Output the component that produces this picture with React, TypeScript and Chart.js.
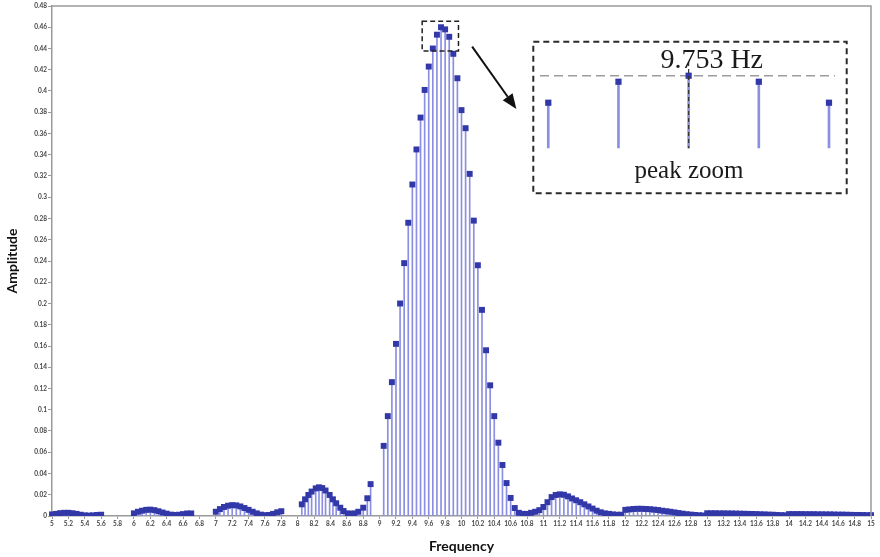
import React, { useEffect, useRef } from "react";
import { Chart, registerables } from "chart.js";

Chart.register(...registerables);

// ---------- data ----------
const FREQ_1 = [5, 5.05, 5.1, 5.15, 5.2, 5.25, 5.3, 5.35, 5.4, 5.45, 5.5, 5.55, 5.6];
const AMP_1 = [0.0015, 0.002, 0.0027, 0.003, 0.003, 0.0026, 0.002, 0.0012, 0.0006, 0.0004, 0.0006, 0.001, 0.0012];

const FREQ_2 = [6, 6.05, 6.1, 6.15, 6.2, 6.25, 6.3, 6.35, 6.4, 6.45, 6.5, 6.55, 6.6, 6.65, 6.7];
const AMP_2 = [0.0025, 0.004, 0.005, 0.0058, 0.006, 0.0055, 0.0045, 0.0033, 0.0022, 0.0013, 0.001, 0.0012, 0.0018, 0.0024, 0.0024];

const FREQ_3 = [7, 7.05, 7.1, 7.15, 7.2, 7.25, 7.3, 7.35, 7.4, 7.45, 7.5, 7.55, 7.6, 7.65, 7.7, 7.75, 7.8];
const AMP_3 = [0.004, 0.0065, 0.0085, 0.0097, 0.0102, 0.01, 0.009, 0.0075, 0.0058, 0.004, 0.0025, 0.0013, 0.0008, 0.001, 0.002, 0.0035, 0.0045];

const FREQ_4 = [8.05, 8.09, 8.13, 8.17, 8.22, 8.26, 8.3, 8.34, 8.39, 8.43, 8.47, 8.52, 8.56, 8.61, 8.65, 8.69, 8.74, 8.8, 8.85, 8.89];
const AMP_4 = [0.011, 0.0157, 0.0198, 0.023, 0.026, 0.027, 0.0263, 0.024, 0.0198, 0.0157, 0.012, 0.0078, 0.0047, 0.0025, 0.002, 0.0025, 0.004, 0.0078, 0.0167, 0.03];

const FREQ_5 = [9.05, 9.1, 9.15, 9.2, 9.25, 9.3, 9.35, 9.4, 9.45, 9.5, 9.55, 9.6, 9.65, 9.7, 9.75, 9.8, 9.85, 9.9, 9.95, 10.0, 10.05, 10.1, 10.15, 10.2, 10.25, 10.3, 10.35, 10.4, 10.45, 10.5, 10.55, 10.6, 10.65, 10.7];
const AMP_5 = [0.066, 0.094, 0.126, 0.162, 0.2, 0.238, 0.276, 0.312, 0.345, 0.375, 0.401, 0.423, 0.44, 0.453, 0.46, 0.458, 0.451, 0.435, 0.412, 0.382, 0.365, 0.322, 0.278, 0.236, 0.194, 0.156, 0.123, 0.094, 0.069, 0.048, 0.031, 0.017, 0.0075, 0.003];

const FREQ_6 = [10.75, 10.8, 10.85, 10.9, 10.95, 11.0, 11.05, 11.1, 11.15, 11.2, 11.25, 11.3, 11.35, 11.4, 11.45, 11.5, 11.55, 11.6, 11.65, 11.7, 11.75, 11.8, 11.85, 11.9, 11.95];
const AMP_6 = [0.002, 0.002, 0.003, 0.004, 0.0055, 0.0085, 0.013, 0.0178, 0.0198, 0.0204, 0.02, 0.0185, 0.0165, 0.0148, 0.013, 0.011, 0.009, 0.007, 0.005, 0.0035, 0.0025, 0.002, 0.0015, 0.0012, 0.0012];

const FREQ_7 = [12.0, 12.05, 12.1, 12.15, 12.2, 12.25, 12.3, 12.35, 12.4, 12.45, 12.5, 12.55, 12.6, 12.65, 12.7, 12.75, 12.8, 12.85, 12.9, 12.95];
const AMP_7 = [0.0058, 0.0062, 0.0066, 0.0068, 0.0068, 0.0066, 0.0064, 0.006, 0.0056, 0.005, 0.0045, 0.004, 0.0034, 0.0028, 0.0022, 0.0017, 0.0013, 0.001, 0.0007, 0.0005];

const FREQ_8 = [13.0, 13.05, 13.1, 13.15, 13.2, 13.25, 13.3, 13.35, 13.4, 13.45, 13.5, 13.55, 13.6, 13.65, 13.7, 13.75, 13.8, 13.85, 13.9, 13.95];
const AMP_8 = [0.0026, 0.0026, 0.0026, 0.0025, 0.0025, 0.0024, 0.0024, 0.0023, 0.0022, 0.0021, 0.002, 0.0019, 0.0018, 0.0016, 0.0015, 0.0013, 0.0012, 0.001, 0.0008, 0.0007];

const FREQ_9 = [14.0, 14.05, 14.1, 14.15, 14.2, 14.25, 14.3, 14.35, 14.4, 14.45, 14.5, 14.55, 14.6, 14.65, 14.7, 14.75, 14.8, 14.85, 14.9, 14.95, 15.0];
const AMP_9 = [0.0018, 0.0018, 0.0018, 0.0018, 0.0017, 0.0017, 0.0017, 0.0016, 0.0016, 0.0015, 0.0015, 0.0014, 0.0013, 0.0013, 0.0012, 0.0011, 0.001, 0.001, 0.0009, 0.0008, 0.0008];

const X_TICKS = [5, 5.2, 5.4, 5.6, 5.8, 6, 6.2, 6.4, 6.6, 6.8, 7, 7.2, 7.4, 7.6, 7.8, 8, 8.2, 8.4, 8.6, 8.8, 9, 9.2, 9.4, 9.6, 9.8, 10, 10.2, 10.4, 10.6, 10.8, 11, 11.2, 11.4, 11.6, 11.8, 12, 12.2, 12.4, 12.6, 12.8, 13, 13.2, 13.4, 13.6, 13.8, 14, 14.2, 14.4, 14.6, 14.8, 15];
const Y_TICKS = [0, 0.02, 0.04, 0.06, 0.08, 0.1, 0.12, 0.14, 0.16, 0.18, 0.2, 0.22, 0.24, 0.26, 0.28, 0.3, 0.32, 0.34, 0.36, 0.38, 0.4, 0.42, 0.44, 0.46, 0.48];

const INSET_FREQ = [9.653, 9.703, 9.753, 9.803, 9.853];
const INSET_AMP = [0.442, 0.456, 0.46, 0.456, 0.442];
const PEAK_FREQ = 9.753;
const PEAK_AMP = 0.46;
const PEAK_LABEL = "9.753 Hz";
const INSET_TITLE = "peak zoom";
const X_TITLE = "Frequency";
const Y_TITLE = "Amplitude";

// annotation geometry (data coordinates)
const PEAK_BOX = { x0: 9.52, x1: 9.963, y0: 0.4377, y1: 0.4657 };
const ARROW = { x0: 10.13, y0: 0.4417, x1: 10.67, y1: 0.3831 };

// ---------- styles ----------
const MARK = "#3338a8";
const STEM = "#8b8fe3";
const AXIS = "#9a9a9a";

const SEGMENTS: [number[], number[]][] = [
  [FREQ_1, AMP_1], [FREQ_2, AMP_2], [FREQ_3, AMP_3], [FREQ_4, AMP_4], [FREQ_5, AMP_5],
  [FREQ_6, AMP_6], [FREQ_7, AMP_7], [FREQ_8, AMP_8], [FREQ_9, AMP_9],
];

const fmt = (v: number) => String(+Number(v).toFixed(2));

const mainDecor = {
  id: "mainDecor",
  afterDraw(chart: any) {
    const { ctx, chartArea: a, scales } = chart;
    const xs = scales.x, ys = scales.y;
    ctx.save();
    ctx.strokeStyle = AXIS;
    ctx.lineWidth = 1.5;
    ctx.beginPath();
    ctx.moveTo(a.left, a.top);
    ctx.lineTo(a.right, a.top);
    ctx.lineTo(a.right, a.bottom);
    ctx.stroke();
    const bx0 = xs.getPixelForValue(PEAK_BOX.x0), bx1 = xs.getPixelForValue(PEAK_BOX.x1);
    const by0 = ys.getPixelForValue(PEAK_BOX.y0), by1 = ys.getPixelForValue(PEAK_BOX.y1);
    ctx.strokeStyle = "#222";
    ctx.lineWidth = 1.5;
    ctx.setLineDash([5, 3]);
    ctx.strokeRect(bx0, by1, bx1 - bx0, by0 - by1);
    ctx.setLineDash([]);
    const ax0 = xs.getPixelForValue(ARROW.x0), ay0 = ys.getPixelForValue(ARROW.y0);
    const ax1 = xs.getPixelForValue(ARROW.x1), ay1 = ys.getPixelForValue(ARROW.y1);
    const ang = Math.atan2(ay1 - ay0, ax1 - ax0);
    const hl = 15, hw = 6;
    const bxp = ax1 - hl * Math.cos(ang), byp = ay1 - hl * Math.sin(ang);
    ctx.strokeStyle = "#111";
    ctx.fillStyle = "#111";
    ctx.lineWidth = 2;
    ctx.beginPath();
    ctx.moveTo(ax0, ay0);
    ctx.lineTo(bxp, byp);
    ctx.stroke();
    ctx.beginPath();
    ctx.moveTo(ax1, ay1);
    ctx.lineTo(bxp + hw * Math.sin(ang), byp - hw * Math.cos(ang));
    ctx.lineTo(bxp - hw * Math.sin(ang), byp + hw * Math.cos(ang));
    ctx.closePath();
    ctx.fill();
    ctx.restore();
  },
};

const insetDecor = {
  id: "insetDecor",
  beforeDatasetsDraw(chart: any) {
    const { ctx, chartArea: a, scales } = chart;
    const y = scales.y.getPixelForValue(PEAK_AMP);
    ctx.save();
    ctx.strokeStyle = "#9c9c9c";
    ctx.lineWidth = 1.5;
    ctx.setLineDash([9, 5]);
    ctx.beginPath();
    ctx.moveTo(a.left, y);
    ctx.lineTo(a.right - 1, y);
    ctx.stroke();
    ctx.restore();
  },
  afterDraw(chart: any) {
    const { ctx, chartArea: a, scales, width, height } = chart;
    ctx.save();
    const cx = scales.x.getPixelForValue(PEAK_FREQ);
    ctx.strokeStyle = "#333";
    ctx.lineWidth = 1.2;
    ctx.setLineDash([4, 3]);
    ctx.beginPath();
    ctx.moveTo(cx, a.top + 2);
    ctx.lineTo(cx, a.bottom);
    ctx.stroke();
    ctx.strokeStyle = "#2a2a2a";
    ctx.lineWidth = 2;
    ctx.setLineDash([6, 4]);
    ctx.strokeRect(3.3, 4.7, width - 5.3 - 3.3, height - 3.7 - 4.7);
    ctx.setLineDash([]);
    ctx.fillStyle = "#1a1a1a";
    ctx.textAlign = "center";
    ctx.textBaseline = "alphabetic";
    ctx.font = '28px "Liberation Serif"';
    ctx.fillText(PEAK_LABEL, 181.7, 31.3);
    ctx.font = '25px "Liberation Serif"';
    ctx.fillText(INSET_TITLE, 159, 141.3);
    ctx.restore();
  },
};

export default function App() {
  const mainRef = useRef<HTMLCanvasElement | null>(null);
  const insetRef = useRef<HTMLCanvasElement | null>(null);

  useEffect(() => {
    document.body.style.margin = "0";
    const points = SEGMENTS.flatMap(([f, a]) => f.map((x, i) => ({ x, y: a[i] })));
    const tickFont = { family: "Lato", size: 6.5, weight: "bold" };

    const main = new Chart(mainRef.current as HTMLCanvasElement, {
      type: "bar",
      data: {
        datasets: [
          {
            type: "scatter",
            data: points,
            pointStyle: "rect",
            pointRadius: 4.2,
            backgroundColor: MARK,
            borderWidth: 0,
            order: 0,
            clip: { left: 10, right: 10, top: 10, bottom: 0 },
          } as any,
          {
            type: "bar",
            data: points,
            backgroundColor: STEM,
            barThickness: 1,
            borderWidth: 0,
            order: 1,
            clip: 0,
          } as any,
        ],
      },
      options: {
        animation: false,
        responsive: false,
        events: [],
        layout: { padding: { top: 6, right: 9, left: 0, bottom: 0 } },
        plugins: { legend: { display: false }, tooltip: { enabled: false } },
        scales: {
          x: {
            type: "linear",
            min: 5,
            max: 15,
            offset: false,
            afterBuildTicks: (s: any) => { s.ticks = X_TICKS.map((v) => ({ value: v })); },
            afterFit: (s: any) => { s.height = 41; },
            ticks: { autoSkip: false, maxRotation: 0, minRotation: 0, font: tickFont, color: "#444", padding: 1, callback: (v: any) => fmt(v) },
            grid: { drawOnChartArea: false, tickLength: 3, color: AXIS, offset: false },
            border: { color: AXIS, width: 1.5 },
            title: { display: true, text: X_TITLE, font: { family: "Lato", size: 14, weight: "bold" }, color: "#111", padding: { top: 2, bottom: 2 } },
          },
          y: {
            type: "linear",
            min: 0,
            max: 0.48,
            afterBuildTicks: (s: any) => { s.ticks = Y_TICKS.map((v) => ({ value: v })); },
            afterFit: (s: any) => { s.width = 52; },
            ticks: { autoSkip: false, font: tickFont, color: "#444", padding: 1, callback: (v: any) => fmt(v) },
            grid: { drawOnChartArea: false, tickLength: 4, color: AXIS },
            border: { color: AXIS, width: 1.5 },
            title: { display: true, text: Y_TITLE, font: { family: "Lato", size: 14, weight: "bold" }, color: "#111", padding: { top: 4, bottom: 2 } },
          },
        },
      } as any,
      plugins: [mainDecor],
    });

    const insetPts = INSET_FREQ.map((x, i) => ({ x, y: INSET_AMP[i] }));
    const inset = new Chart(insetRef.current as HTMLCanvasElement, {
      type: "bar",
      data: {
        datasets: [
          {
            type: "scatter",
            data: insetPts,
            pointStyle: "rect",
            pointRadius: 4.4,
            backgroundColor: MARK,
            borderWidth: 0,
            order: 0,
            clip: false,
          } as any,
          {
            type: "bar",
            data: insetPts,
            backgroundColor: STEM,
            barThickness: 2,
            borderWidth: 0,
            order: 1,
            clip: 0,
          } as any,
        ],
      },
      options: {
        animation: false,
        responsive: false,
        events: [],
        layout: { padding: { left: 10, top: 23, right: 16, bottom: 48.7 } },
        plugins: { legend: { display: false }, tooltip: { enabled: false } },
        scales: {
          x: { type: "linear", display: false, min: 9.6471, max: 9.858, offset: false },
          y: { type: "linear", display: false, min: 0.4116, max: 0.4705 },
        },
      } as any,
      plugins: [insetDecor],
    });

    return () => {
      main.destroy();
      inset.destroy();
    };
  }, []);

  return (
    <div style={{ position: "relative", width: 880, height: 557, background: "#fff" }}>
      <canvas ref={mainRef} width={880} height={557} style={{ position: "absolute", left: 0, top: 0 }} />
      <canvas ref={insetRef} width={322} height={160} style={{ position: "absolute", left: 530, top: 37 }} />
    </div>
  );
}
